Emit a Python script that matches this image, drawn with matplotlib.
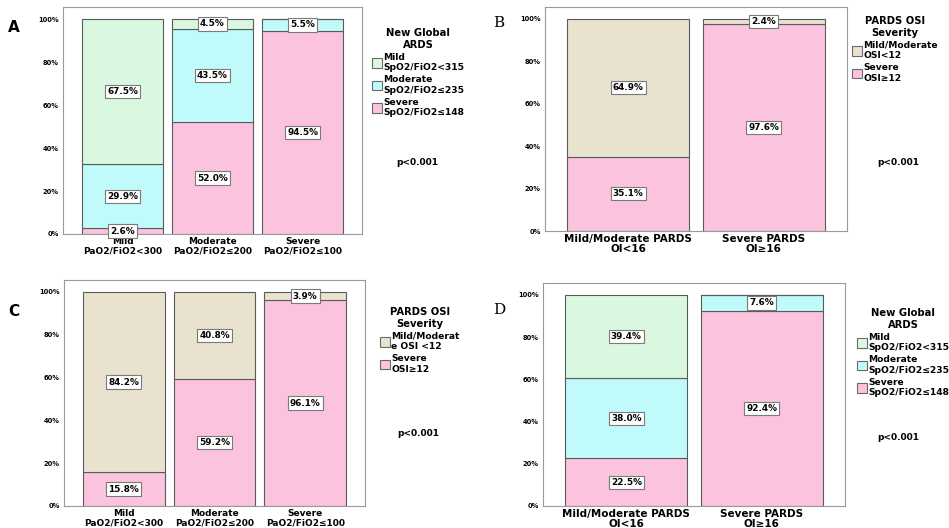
import matplotlib
matplotlib.use("Agg")
import matplotlib.pyplot as plt
from matplotlib.patches import Patch

# %%
# panel A: PaO2/FiO2 groups vs New Global ARDS
cats_a = ["Mild\nPaO2/FiO2<300", "Moderate\nPaO2/FiO2≤200", "Severe\nPaO2/FiO2≤100"]
severe_a = [2.6, 52.0, 94.5]
moderate_a = [29.9, 43.5, 5.5]
mild_a = [67.5, 4.5, 0.0]

# panel B: OI groups vs PARDS OSI severity
cats_b = ["Mild/Moderate PARDS\nOI<16", "Severe PARDS\nOI≥16"]
severe_b = [35.1, 97.6]
mildmod_b = [64.9, 2.4]

# panel C: PaO2/FiO2 groups vs PARDS OSI severity
cats_c = ["Mild\nPaO2/FiO2<300", "Moderate\nPaO2/FiO2≤200", "Severe\nPaO2/FiO2≤100"]
severe_c = [15.8, 59.2, 96.1]
mildmod_c = [84.2, 40.8, 3.9]

# panel D: OI groups vs New Global ARDS
cats_d = ["Mild/Moderate PARDS\nOI<16", "Severe PARDS\nOI≥16"]
severe_d = [22.5, 92.4]
moderate_d = [38.0, 7.6]
mild_d = [39.4, 0.0]

ards_title = "New Global\nARDS"
ards_labels = ["Mild\nSpO2/FiO2<315", "Moderate\nSpO2/FiO2≤235", "Severe\nSpO2/FiO2≤148"]
osi_title = "PARDS OSI\nSeverity"
osi_labels_b = ["Mild/Moderate\nOSI<12", "Severe\nOSI≥12"]
osi_labels_c = ["Mild/Moderat\ne OSI <12", "Severe\nOSI≥12"]

C_MILD = "#daf8df"
C_MOD = "#c0fafa"
C_SEV = "#fbc3de"
C_MM = "#e8e2cf"
EDGE = "#5a5a5a"

W, H = 949, 528
fig = plt.figure(figsize=(W / 100, H / 100), dpi=100)
plt.rcParams['font.family'] = ['DejaVu Sans']


def axes_at(left, top, right, bottom):
    return fig.add_axes([left / W, 1 - bottom / H, (right - left) / W, (bottom - top) / H])


def stacked(ax, cats, series, colors, xfs):
    x = list(range(len(cats)))
    base = [0.0] * len(cats)
    for vals, col in zip(series, colors):
        ax.bar(x, vals, bottom=base, width=0.9, color=col, edgecolor=EDGE, linewidth=0.8)
        for xi, v, b in zip(x, vals, base):
            if v > 0:
                ax.text(xi, b + v / 2, f"{v:.1f}%", ha='center', va='center',
                        fontsize=6.4, fontweight='bold',
                        bbox=dict(boxstyle='square,pad=0.25', fc='white', ec='#7a7a7a', lw=0.8))
        base = [b + v for b, v in zip(base, vals)]
    n = len(cats)
    m = 0.21 if n == 3 else 0.165
    ax.set_xlim(-0.45 - m, n - 1 + 0.45 + m)
    ax.set_ylim(0, 105.6)
    ax.set_yticks([0, 20, 40, 60, 80, 100])
    ax.set_yticklabels([f"{t}%" for t in [0, 20, 40, 60, 80, 100]], fontsize=4.8, fontweight='bold')
    ax.set_xticks(x)
    ax.set_xticklabels(cats, fontsize=xfs, fontweight='bold', linespacing=0.95)
    ax.tick_params(length=0, pad=3)
    ax.tick_params(axis='x', pad=2.5)
    for s in ax.spines.values():
        s.set_color('#9a9a9a')
        s.set_linewidth(0.8)


def legend_at(x, y, title, labels, colors):
    handles = [Patch(facecolor=c, edgecolor='#6a6a6a', linewidth=0.8) for c in colors]
    leg = fig.legend(handles, labels, title=title, loc='upper left',
                     bbox_to_anchor=(x / W, 1 - y / H), frameon=False, alignment='center',
                     borderpad=0, borderaxespad=0, handlelength=1.1, handleheight=1.2,
                     handletextpad=0.15, labelspacing=0.35,
                     prop={'size': 6.6, 'weight': 'bold'},
                     title_fontproperties={'size': 7.2, 'weight': 'bold'})
    leg.get_title().set_multialignment('center')
    return leg


# %%
ax_a = axes_at(63, 7, 362, 234)
stacked(ax_a, cats_a, [severe_a, moderate_a, mild_a], [C_SEV, C_MOD, C_MILD], 6.5)
legend_at(372, 28, ards_title, ards_labels, [C_MILD, C_MOD, C_SEV])
fig.text(417 / W, 1 - 162 / H, "p<0.001", fontsize=6.5, fontweight='bold', ha='center', va='center')
fig.text(14 / W, 1 - 28 / H, "A", fontsize=11, fontweight='bold', ha='center', va='center')

ax_b = axes_at(545, 7, 847, 231)
stacked(ax_b, cats_b, [severe_b, mildmod_b], [C_SEV, C_MM], 7.5)
legend_at(852, 16, osi_title, osi_labels_b, [C_MM, C_SEV])
fig.text(898 / W, 1 - 162 / H, "p<0.001", fontsize=6.5, fontweight='bold', ha='center', va='center')
fig.text(499 / W, 1 - 23 / H, "B", fontsize=11, family='DejaVu Serif', ha='center', va='center')

# %%
ax_c = axes_at(64, 280, 365, 506)
stacked(ax_c, cats_c, [severe_c, mildmod_c], [C_SEV, C_MM], 6.5)
legend_at(380, 307, osi_title, osi_labels_c, [C_MM, C_SEV])
fig.text(418 / W, 1 - 433 / H, "p<0.001", fontsize=6.5, fontweight='bold', ha='center', va='center')
fig.text(14 / W, 1 - 312 / H, "C", fontsize=11, fontweight='bold', ha='center', va='center')

ax_d = axes_at(543, 283, 845, 506)
stacked(ax_d, cats_d, [severe_d, moderate_d, mild_d], [C_SEV, C_MOD, C_MILD], 7.5)
legend_at(857, 308, ards_title, ards_labels, [C_MILD, C_MOD, C_SEV])
fig.text(898 / W, 1 - 437 / H, "p<0.001", fontsize=6.5, fontweight='bold', ha='center', va='center')
fig.text(499 / W, 1 - 310 / H, "D", fontsize=11, family='DejaVu Serif', ha='center', va='center')

fig.savefig("out.png", dpi=100)
